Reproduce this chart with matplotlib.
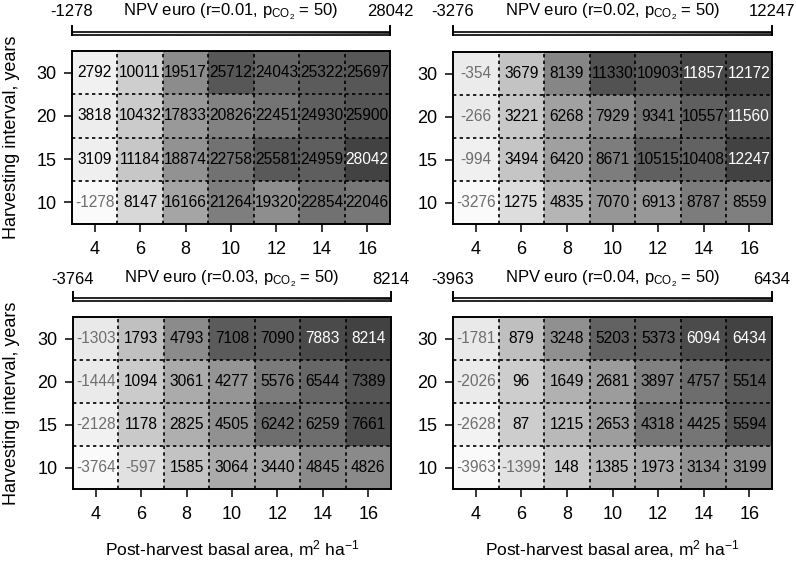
import numpy as np
import matplotlib
matplotlib.use("Agg")
import matplotlib.pyplot as plt
from matplotlib.colors import ListedColormap, Normalize
from matplotlib.lines import Line2D

plt.rcParams['font.family'] = ['Liberation Sans', 'DejaVu Sans']
plt.rcParams['mathtext.fontset'] = 'custom'
plt.rcParams['mathtext.rm'] = 'Liberation Sans'
plt.rcParams['mathtext.it'] = 'Liberation Sans:italic'
plt.rcParams['mathtext.bf'] = 'Liberation Sans:bold'

basal_area = [4, 6, 8, 10, 12, 14, 16]
intervals = ["10", "15", "20", "30"]   # bottom to top
rates = ["0.01", "0.02", "0.03", "0.04"]

# rows: 10, 15, 20, 30 years
npv_r001 = [[-1278, 8147, 16166, 21264, 19320, 22854, 22046],
            [3109, 11184, 18874, 22758, 25581, 24959, 28042],
            [3818, 10432, 17833, 20826, 22451, 24930, 25900],
            [2792, 10011, 19517, 25712, 24043, 25322, 25697]]
npv_r002 = [[-3276, 1275, 4835, 7070, 6913, 8787, 8559],
            [-994, 3494, 6420, 8671, 10515, 10408, 12247],
            [-266, 3221, 6268, 7929, 9341, 10557, 11560],
            [-354, 3679, 8139, 11330, 10903, 11857, 12172]]
npv_r003 = [[-3764, -597, 1585, 3064, 3440, 4845, 4826],
            [-2128, 1178, 2825, 4505, 6242, 6259, 7661],
            [-1444, 1094, 3061, 4277, 5576, 6544, 7389],
            [-1303, 1793, 4793, 7108, 7090, 7883, 8214]]
npv_r004 = [[-3963, -1399, 148, 1385, 1973, 3134, 3199],
            [-2628, 87, 1215, 2653, 4318, 4425, 5594],
            [-2026, 96, 1649, 2681, 3897, 4757, 5514],
            [-1781, 879, 3248, 5203, 5373, 6094, 6434]]
panels = [npv_r001, npv_r002, npv_r003, npv_r004]

# grey colormap: light to dark, slightly non-linear
tt = np.linspace(0, 1, 256)
g = 0.98 - 0.72 * tt ** 1.5
cmap = ListedColormap(np.column_stack([g, g, g]))

W, H = 796, 561
fig = plt.figure(figsize=(W / 100, H / 100), dpi=100)

def fx(px):
    return px / W

def fy(py):
    return 1 - py / H

# (left, right, top, bottom) px of heatmap; colorbar y, title y
layouts = [
    (72, 390, 51, 224, 33, 12),
    (453, 772, 52, 224, 33, 12),
    (73, 391, 317, 489, 299, 279),
    (453, 772, 317, 489, 299, 279),
]

for k, (vals, rate, lay) in enumerate(zip(panels, rates, layouts)):
    L, R, T, B, cby, ty = lay
    data = np.array(vals, dtype=float)
    vmin, vmax = data.min(), data.max()
    norm = Normalize(vmin, vmax)
    ax = fig.add_axes([fx(L), fy(B), fx(R - L), (B - T) / H])
    xe = np.arange(3, 18, 2)
    ye = np.arange(-0.5, 4.5, 1)
    ax.pcolormesh(xe, ye, data, cmap=cmap, norm=norm, shading='flat')
    for xv in xe[1:-1]:
        ax.axvline(xv, color='black', lw=1.2, ls=(0, (2, 2)))
    for yv in ye[1:-1]:
        ax.axhline(yv, color='black', lw=1.2, ls=(0, (2, 2)))
    for i in range(4):
        for j in range(7):
            v = data[i, j]
            t = norm(v)
            if v < 0:
                c = '#6e6e6e'
            elif t > 0.955:
                c = 'white'
            else:
                c = 'black'
            ax.text(basal_area[j], i, f"{int(v)}", ha='center', va='center',
                    fontsize=11.2, color=c)
    ax.set_xlim(3, 17)
    ax.set_ylim(-0.5, 3.5)
    ax.set_xticks(basal_area)
    ax.set_xticklabels([str(b) for b in basal_area])
    ax.set_yticks(range(4))
    ax.set_yticklabels(intervals)
    ax.tick_params(axis='both', direction='out', length=6, width=1.1,
                   labelsize=13, pad=5, color='black')
    ax.tick_params(axis='x', pad=6)
    for s in ax.spines.values():
        s.set_linewidth(1.4)
    # colorbar strip
    cax = fig.add_axes([fx(L), fy(cby + 1.5), fx(R - L), 3 / H])
    grad = np.linspace(vmin, vmax, 256)[None, :]
    cax.imshow(grad, aspect='auto', cmap=cmap, norm=norm,
               extent=[vmin, vmax, 0, 1])
    cax.set_xticks([])
    cax.set_yticks([])
    for s in cax.spines.values():
        s.set_linewidth(1.2)
    for xe_ in (0, 1):
        cax.add_line(Line2D([xe_, xe_], [0, 3.0], transform=cax.transAxes,
                            color='black', lw=1.4, clip_on=False))
    fig.text(fx(L), fy(ty), f"{int(vmin)}", ha='center', va='center', fontsize=12)
    fig.text(fx(R), fy(ty), f"{int(vmax)}", ha='center', va='center', fontsize=12)
    fig.text(fx((L + R) / 2), fy(ty),
             r"NPV euro (r=" + rate + r", p$_{\mathrm{CO}_2}$ = 50)",
             ha='center', va='center', fontsize=12)
    if k % 2 == 0:
        fig.text(fx(12), fy((T + B) / 2), "Harvesting interval, years",
                 rotation=90, ha='center', va='center', fontsize=13)
    if k >= 2:
        fig.text(fx((L + R) / 2), fy(549),
                 r"Post-harvest basal area, m$^2$ ha$^{-1}$",
                 ha='center', va='center', fontsize=12.5)

fig.savefig("out.png", dpi=100)
